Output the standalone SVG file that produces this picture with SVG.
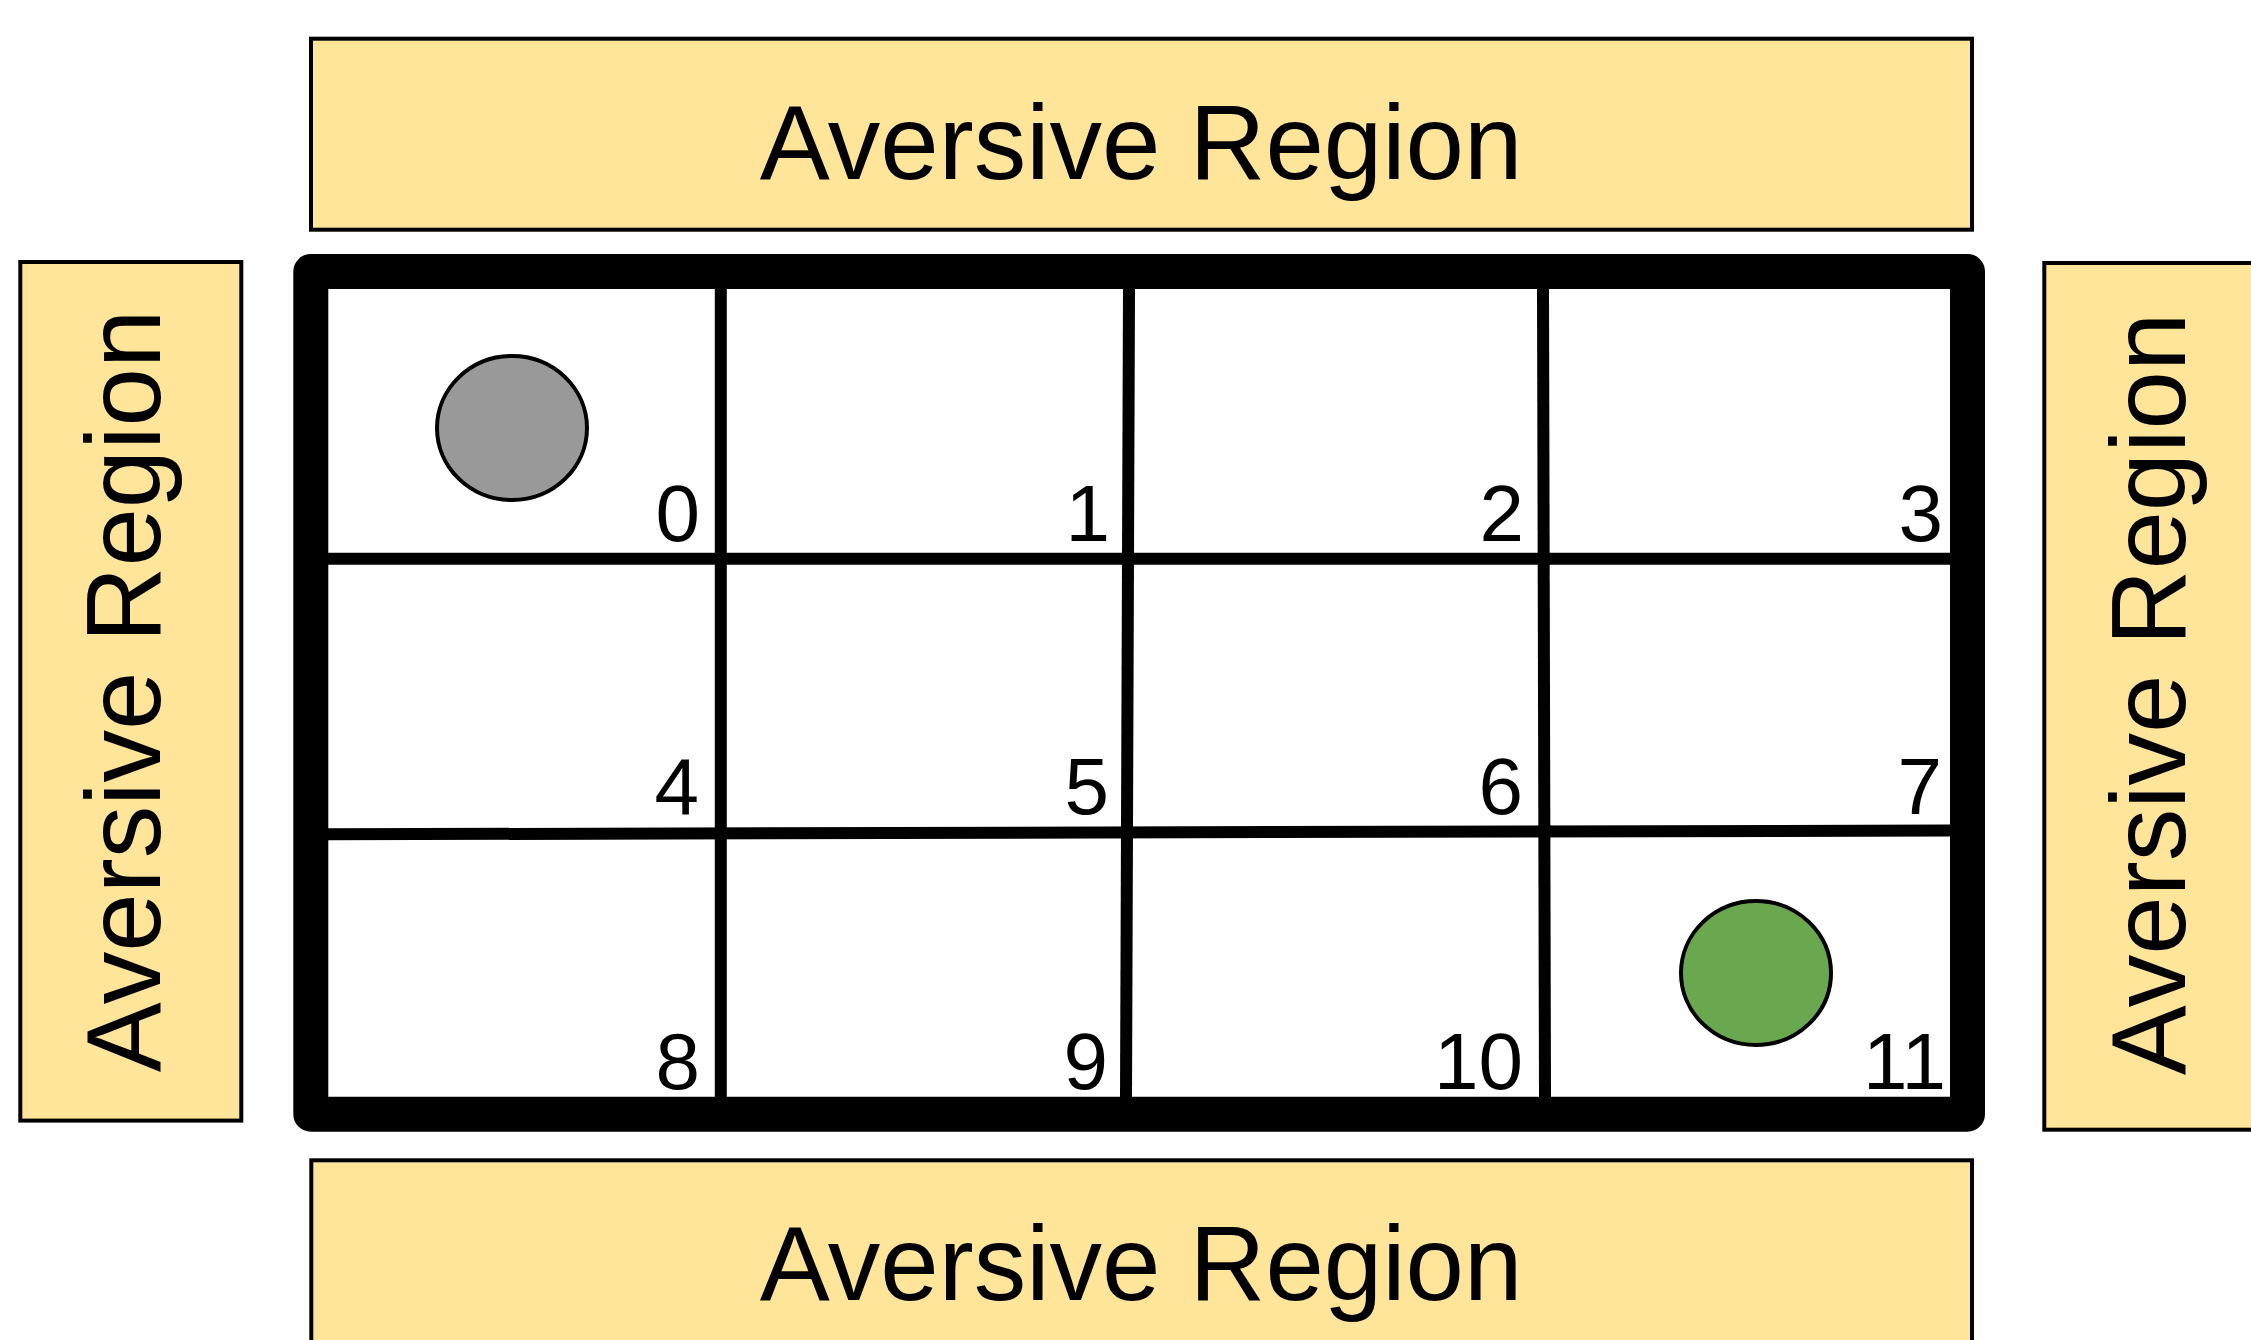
<svg xmlns="http://www.w3.org/2000/svg" width="2251" height="1340" viewBox="0 0 2251 1340">
  <style>
    .region { fill: #FFE599; stroke: #000000; stroke-width: 4; }
    .rlabel { font-family: "Liberation Sans", Arial, sans-serif; font-size: 105px; fill: #000000; text-anchor: middle; }
    .num { font-family: "Liberation Sans", Arial, sans-serif; font-size: 80px; fill: #000000; text-anchor: end; }
    .gline { stroke: #000000; stroke-width: 12; fill: none; }
    .agent { stroke: #000000; stroke-width: 4; }
  </style>
  <rect x="0" y="0" width="2251" height="1340" fill="#FFFFFF"/>

  <g id="region-top">
    <rect class="region" x="311" y="38.7" width="1661" height="191"/>
    <text class="rlabel" x="1141" y="179">Aversive Region</text>
  </g>
  <g id="region-bottom">
    <rect class="region" x="311.3" y="1160.3" width="1660.7" height="200"/>
    <text class="rlabel" x="1141" y="1300">Aversive Region</text>
  </g>
  <g id="region-left">
    <rect class="region" x="20.3" y="262" width="221" height="858.6"/>
    <text class="rlabel" transform="translate(160 691) rotate(-90)" x="0" y="0">Aversive Region</text>
  </g>
  <g id="region-right">
    <rect class="region" x="2044.3" y="263" width="230" height="866.7"/>
    <text class="rlabel" transform="translate(2184.5 694) rotate(-90)" x="0" y="0">Aversive Region</text>
  </g>

  <g id="grid">
    <rect x="310.8" y="271.5" width="1656.7" height="842.7" fill="#FFFFFF"/>
    <line class="gline" x1="720.8" y1="289" x2="720.8" y2="1097"/>
    <line class="gline" x1="1129" y1="289" x2="1126" y2="1097"/>
    <line class="gline" x1="1543" y1="289" x2="1545" y2="1097"/>
    <line class="gline" x1="328" y1="558.8" x2="1950" y2="558.8"/>
    <line class="gline" x1="328" y1="834.3" x2="1950" y2="830.5"/>
    <rect x="310.8" y="271.5" width="1656.7" height="842.7" fill="none" stroke="#000000" stroke-width="35" stroke-linejoin="round"/>
  </g>

  <g id="cell-labels">
    <text class="num" x="700" y="541">0</text>
    <text class="num" x="1110" y="541">1</text>
    <text class="num" x="1524" y="541">2</text>
    <text class="num" x="1943" y="541">3</text>
    <text class="num" x="699" y="814">4</text>
    <text class="num" x="1109" y="814">5</text>
    <text class="num" x="1523" y="814">6</text>
    <text class="num" x="1942" y="814">7</text>
    <text class="num" x="700" y="1089">8</text>
    <text class="num" x="1108" y="1089">9</text>
    <text class="num" x="1523" y="1089">10</text>
    <text class="num" x="1946" y="1089">11</text>
  </g>

  <g id="agent-start">
    <ellipse class="agent" cx="512" cy="428" rx="75" ry="72" fill="#999999"/>
  </g>
  <g id="agent-goal">
    <ellipse class="agent" cx="1756" cy="973" rx="75" ry="72" fill="#6AA84F"/>
  </g>

  <g id="connectors"/>
</svg>
